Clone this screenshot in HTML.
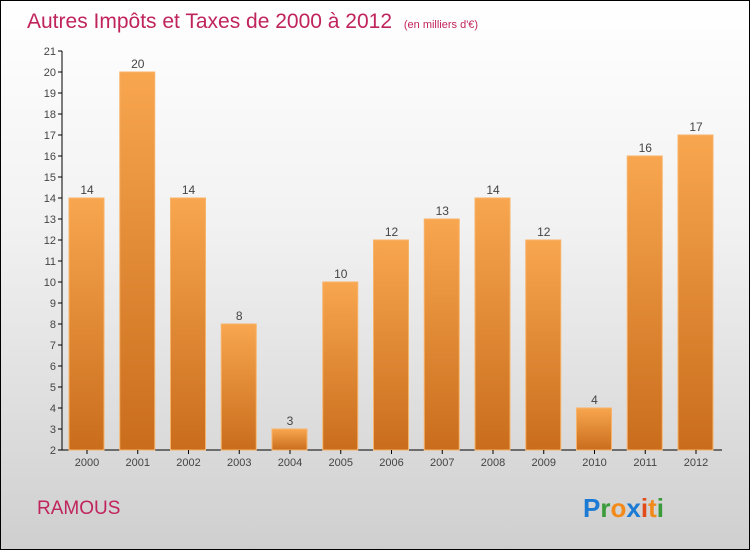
<!DOCTYPE html>
<html><head><meta charset="utf-8"><style>
body{margin:0;}
#c{width:748px;height:548px;border:1px solid #000;background:linear-gradient(#ffffff 0%,#f2f2f2 40%,#cfcfcf 100%);position:relative;overflow:hidden;font-family:"Liberation Sans",sans-serif;}
</style></head><body>
<div id="c">
<svg id="s" width="748" height="548">
<defs><linearGradient id="g" x1="0" y1="0" x2="0" y2="1"><stop offset="0" stop-color="#f8a64f"/><stop offset="1" stop-color="#c96d1c"/></linearGradient></defs>
<text x="26" y="27" font-size="21" fill="#c0245c">Autres Impôts et Taxes de 2000 à 2012 <tspan font-size="11" dx="6">(en milliers d'€)</tspan></text>
<text x="36" y="513" font-size="19" fill="#c0245c">RAMOUS</text>
<text x="582" y="516" font-size="26" font-weight="bold"><tspan fill="#1a7ad4">P</tspan><tspan fill="#3a9b3a">r</tspan><tspan fill="#f28a1a">o</tspan><tspan fill="#1a7ad4">x</tspan><tspan fill="#e24a1a">i</tspan><tspan fill="#f28a1a">t</tspan><tspan fill="#3a9b3a">i</tspan></text>
<g id="plot"></g>
</svg></div>
<script>
const years=["2000","2001","2002","2003","2004","2005","2006","2007","2008","2009","2010","2011","2012"];
const values=[14,20,14,8,3,10,12,13,14,12,4,16,17];
const yTicks=[2,3,4,5,6,7,8,9,10,11,12,13,14,15,16,17,18,19,20,21];
const NS="http://www.w3.org/2000/svg";
const g=document.getElementById('plot');
const y=v=>449-(v-2)*(399/19);
const x=i=>85+i*50.75;
function el(t,a){const e=document.createElementNS(NS,t);for(const k in a)e.setAttribute(k,a[k]);g.appendChild(e);return e;}
const ya=el('line',{x1:61,y1:y(21),x2:61,y2:449,stroke:'#000'});


const xa=el('line',{x1:61,y1:449,x2:721,y2:449,stroke:'#000'});


yTicks.forEach(v=>{
const t=el('line',{x1:57,x2:61,y1:y(v),y2:y(v),stroke:'#000'});


const l=el('text',{x:55,y:y(v)+4,'font-size':11,fill:'#444','text-anchor':'end'});
l.textContent=v;


});
years.forEach((yr,i)=>{
const v=values[i];
const b=el('rect',{x:x(i)-17,y:y(v),width:35,height:449-y(v),fill:'url(#g)',stroke:'#f7b36a','stroke-width':1});


const vl=el('text',{x:x(i)+1,y:y(v)-4,'font-size':12,fill:'#444','text-anchor':'middle'});
vl.textContent=v;


const tk=el('line',{x1:x(i)+1,x2:x(i)+1,y1:449,y2:453,stroke:'#000'});


const xl=el('text',{x:x(i)+1,y:465,'font-size':11,fill:'#444','text-anchor':'middle'});
xl.textContent=yr;


});
</script>
</body></html>
